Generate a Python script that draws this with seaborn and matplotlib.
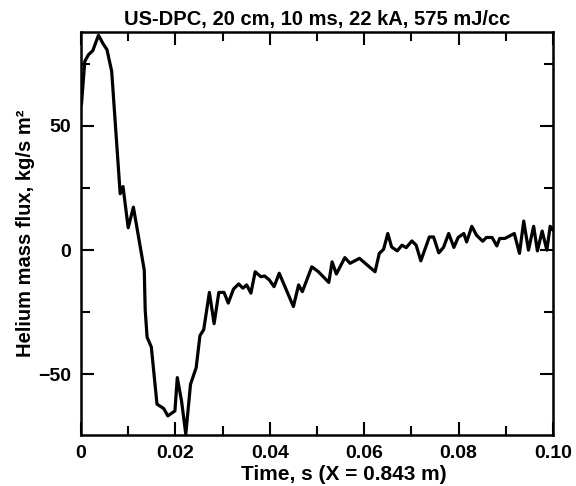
import numpy as np
import pandas as pd
import matplotlib
matplotlib.use("Agg")
import matplotlib.pyplot as plt
import seaborn as sns
from matplotlib.ticker import MultipleLocator

# Time (s)
time_s = [0.0001, 0.0008, 0.0016, 0.0025, 0.0037, 0.0047, 0.0055, 0.0065,
          0.0083, 0.0089, 0.0100, 0.0111, 0.0134, 0.0136, 0.0140, 0.0149,
          0.0161, 0.0175, 0.0184, 0.0199, 0.0204, 0.0213, 0.0222, 0.0232,
          0.0244, 0.0252, 0.0260, 0.0272, 0.0282, 0.0292, 0.0303, 0.0312,
          0.0323, 0.0334, 0.0343, 0.0351, 0.0360, 0.0369, 0.0381, 0.0389,
          0.0399, 0.0409, 0.0420, 0.0450, 0.0461, 0.0469, 0.0489, 0.0503,
          0.0525, 0.0532, 0.0541, 0.0559, 0.0570, 0.0590, 0.0623, 0.0632,
          0.0641, 0.0650, 0.0658, 0.0670, 0.0680, 0.0689, 0.0701, 0.0710,
          0.0720, 0.0738, 0.0747, 0.0758, 0.0768, 0.0779, 0.0790, 0.0799,
          0.0811, 0.0817, 0.0828, 0.0838, 0.0851, 0.0859, 0.0871, 0.0881,
          0.0887, 0.0898, 0.0918, 0.0929, 0.0938, 0.0948, 0.0959, 0.0967,
          0.0977, 0.0987, 0.0994, 0.1000]
# Helium mass flux (kg/s m^2)
flux = [58.7, 76.0, 78.7, 80.3, 86.5, 83.0, 80.7, 72.0,
        22.7, 25.6, 9.0, 17.3, -8.0, -24.0, -35.0, -39.0,
        -62.0, -63.7, -66.7, -64.7, -51.3, -60.7, -74.0, -54.0,
        -47.3, -34.4, -32.0, -17.0, -29.6, -17.0, -17.0, -21.3,
        -15.7, -13.6, -15.3, -14.0, -17.3, -8.7, -10.7, -10.4,
        -12.0, -14.7, -9.3, -22.7, -14.0, -16.7, -6.7, -8.7,
        -13.0, -4.7, -9.6, -3.0, -5.3, -3.3, -8.7, -1.3,
        0.3, 6.7, 1.3, -0.3, 2.0, 1.0, 3.7, 2.0,
        -4.3, 5.3, 5.3, -1.1, 1.1, 6.7, 1.1, 5.1,
        6.7, 3.3, 9.6, 6.0, 3.6, 5.1, 5.1, 1.7,
        4.7, 4.7, 6.7, -1.3, 11.7, 0.0, 9.6, -0.3,
        7.7, 0.0, 9.6, 8.0]

df = pd.DataFrame({"t": time_s, "flux": flux})

sns.set_style("ticks")
plt.rcParams["font.family"] = ["Liberation Sans", "DejaVu Sans"]
plt.rcParams["font.weight"] = "bold"
plt.rcParams["axes.unicode_minus"] = True
plt.rcParams["text.color"] = "black"
plt.rcParams["axes.labelcolor"] = "black"
plt.rcParams["axes.titlecolor"] = "black"

fig = plt.figure(figsize=(5.76, 4.86), dpi=100)
ax = fig.add_axes([81/576, 1-435/486, (553-81)/576, (435-32)/486])

sns.lineplot(data=df, x="t", y="flux", ax=ax, color="black", linewidth=2.3,
             sort=False, estimator=None)

ax.set_xlim(0, 0.1)
ax.set_ylim(-74.4, 87.8)
ax.xaxis.set_major_locator(MultipleLocator(0.02))
ax.xaxis.set_minor_locator(MultipleLocator(0.01))
ax.yaxis.set_major_locator(MultipleLocator(50))
ax.yaxis.set_minor_locator(MultipleLocator(25))
ax.xaxis.set_major_formatter(matplotlib.ticker.FuncFormatter(
    lambda v, p: "0" if abs(v) < 1e-9 else f"{v:.2f}"))
ax.yaxis.set_major_formatter(matplotlib.ticker.FuncFormatter(
    lambda v, p: f"{v:.0f}".replace("-", "\u2212")))
ax.tick_params(which="both", direction="in", top=True, right=True, width=1.5,
               labelsize=14, colors="black")
ax.tick_params(axis="x", which="major", pad=7)
ax.tick_params(axis="y", which="major", pad=7)
ax.tick_params(which="major", length=9.5)
ax.tick_params(which="minor", length=6.5)
for lab in ax.get_xticklabels() + ax.get_yticklabels():
    lab.set_fontweight("bold")
for s in ax.spines.values():
    s.set_linewidth(1.8)
    s.set_color("black")

ax.set_title("US-DPC, 20 cm, 10 ms, 22 kA, 575 mJ/cc", fontsize=14.5,
             fontweight="bold", pad=5, color="black")
ax.set_xlabel("Time, s (X = 0.843 m)", fontsize=15, fontweight="bold")
ax.xaxis.set_label_coords((344 - 81) / 472, -0.075)
ax.set_ylabel("Helium mass flux, kg/s m²", fontsize=14.5, fontweight="bold", labelpad=2)

fig.savefig("out.png", dpi=100)
